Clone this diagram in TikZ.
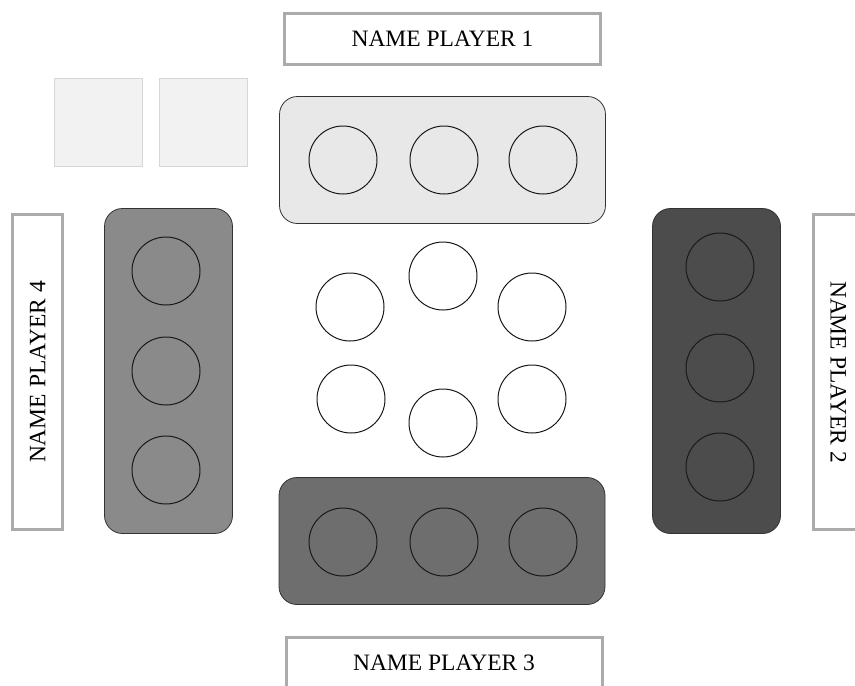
\documentclass[tikz,border=0pt]{standalone}
\usepackage{fontspec}
\setmainfont{Liberation Serif}
\usetikzlibrary{positioning}

\begin{document}
\begin{tikzpicture}[x=1pt, y=-1pt,
    namebox/.style={rectangle, draw=black!33, line width=3pt, fill=white, inner sep=0pt, font=\fontsize{23.5}{27}\selectfont},
    tray/.style={rectangle, rounded corners=18pt, draw=black!80, line width=0.8pt},
    stone/.style={circle, draw=black!90, line width=1pt, minimum size=68pt, inner sep=0pt},
    spare/.style={rectangle, draw=black!16, line width=1.5pt, fill=black!5, minimum size=88pt, inner sep=0pt}]
    \clip (0,0) rectangle (855,686);

    % Name boxes
    \node (name1) [namebox, minimum width=316pt, minimum height=51pt] at (442.5,39) {NAME PLAYER 1};
    \node (name3) [namebox, minimum width=316pt, minimum height=51pt] at (444,663) {NAME PLAYER 3};
    \node (name4) [namebox, rotate=90, minimum width=315pt, minimum height=50pt] at (37.5,372) {NAME PLAYER 4};
    \node (name2) [namebox, rotate=-90, minimum width=315pt, minimum height=50pt] at (838.5,372) {NAME PLAYER 2};

    % Spare squares
    \node (spareA) [spare] at (98.5,122.5) {};
    \node (spareB) [spare] at (203.5,122.5) {};

    % Trays
    \node (tray1) [tray, fill=black!9, minimum width=326pt, minimum height=127pt] at (442.5,160) {};
    \node (tray3) [tray, fill=black!57, minimum width=326pt, minimum height=127pt] at (442,541) {};
    \node (tray4) [tray, fill=black!46, minimum width=128pt, minimum height=325pt] at (168.5,371) {};
    \node (tray2) [tray, fill=black!70, minimum width=128pt, minimum height=325pt] at (716.5,371) {};

    % Stones on the trays
    \node (t1mid) [stone] at (444,160) {};
    \node (t1left) [stone, left=32pt of t1mid] {};
    \node (t1right) [stone, right=30pt of t1mid] {};
    \node (t3mid) [stone] at (444,542) {};
    \node (t3left) [stone, left=32pt of t3mid] {};
    \node (t3right) [stone, right=30pt of t3mid] {};
    \node (t4top) [stone] at (166,271) {};
    \node (t4mid) [stone] at (166,371) {};
    \node (t4bot) [stone] at (166,470) {};
    \node (t2top) [stone] at (720,267) {};
    \node (t2mid) [stone] at (720,368) {};
    \node (t2bot) [stone] at (720,467) {};

    % Stones in the middle
    \node (c1) [stone, fill=white] at (443,276) {};
    \node (c2) [stone, fill=white] at (532,307) {};
    \node (c3) [stone, fill=white] at (532,399) {};
    \node (c4) [stone, fill=white] at (443,423) {};
    \node (c5) [stone, fill=white] at (351,399) {};
    \node (c6) [stone, fill=white] at (350,307) {};
\end{tikzpicture}
\end{document}
